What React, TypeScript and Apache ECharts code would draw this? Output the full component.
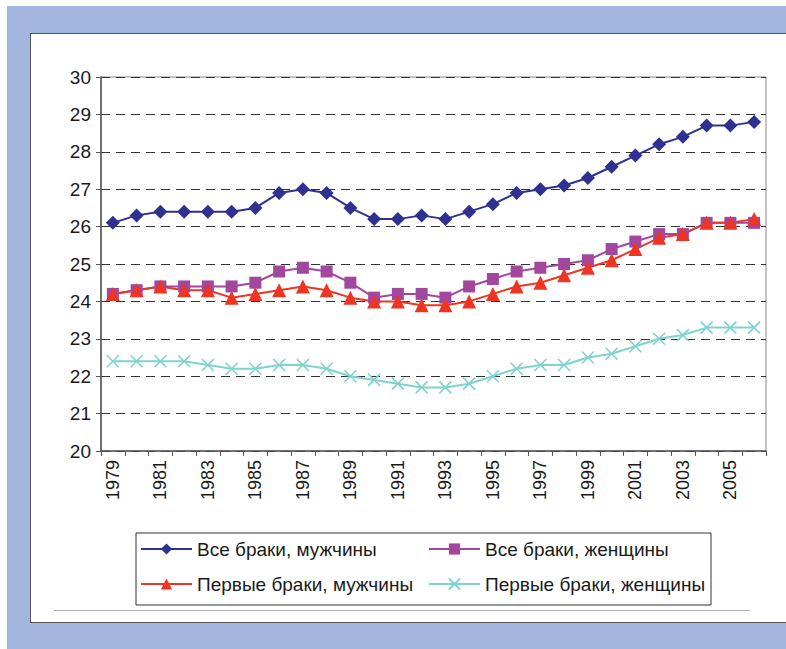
import React, { useEffect, useRef } from "react";
import * as echarts from "echarts";

const years = [
  "1979", "1980", "1981", "1982", "1983", "1984", "1985", "1986", "1987", "1988",
  "1989", "1990", "1991", "1992", "1993", "1994", "1995", "1996", "1997", "1998",
  "1999", "2000", "2001", "2002", "2003", "2004", "2005", "2006",
];

const allMen = [
  26.1, 26.3, 26.4, 26.4, 26.4, 26.4, 26.5, 26.9, 27.0, 26.9,
  26.5, 26.2, 26.2, 26.3, 26.2, 26.4, 26.6, 26.9, 27.0, 27.1,
  27.3, 27.6, 27.9, 28.2, 28.4, 28.7, 28.7, 28.8,
];
const allWomen = [
  24.2, 24.3, 24.4, 24.4, 24.4, 24.4, 24.5, 24.8, 24.9, 24.8,
  24.5, 24.1, 24.2, 24.2, 24.1, 24.4, 24.6, 24.8, 24.9, 25.0,
  25.1, 25.4, 25.6, 25.8, 25.8, 26.1, 26.1, 26.1,
];
const firstMen = [
  24.2, 24.3, 24.4, 24.3, 24.3, 24.1, 24.2, 24.3, 24.4, 24.3,
  24.1, 24.0, 24.0, 23.9, 23.9, 24.0, 24.2, 24.4, 24.5, 24.7,
  24.9, 25.1, 25.4, 25.7, 25.8, 26.1, 26.1, 26.2,
];
const firstWomen = [
  22.4, 22.4, 22.4, 22.4, 22.3, 22.2, 22.2, 22.3, 22.3, 22.2,
  22.0, 21.9, 21.8, 21.7, 21.7, 21.8, 22.0, 22.2, 22.3, 22.3,
  22.5, 22.6, 22.8, 23.0, 23.1, 23.3, 23.3, 23.3,
];

const seriesNames = [
  "Все браки, мужчины",
  "Все браки, женщины",
  "Первые браки, мужчины",
  "Первые браки, женщины",
];

const FONT = "'Liberation Sans', Arial, sans-serif";

export default function App() {
  const ref = useRef<HTMLDivElement>(null);

  useEffect(() => {
    if (!ref.current) return;
    const chart = echarts.init(ref.current, undefined, { renderer: "svg" });
    const cross = "path://M0,0L10,10M10,0L0,10";
    const legendText = { fontSize: 19, color: "#1a1a1a", fontFamily: FONT, lineHeight: 20 };
    chart.setOption({
      animation: false,
      textStyle: { fontFamily: FONT },
      graphic: [
        {
          type: "rect",
          shape: { x: 136, y: 533, width: 575, height: 72 },
          style: { fill: "transparent", stroke: "#333", lineWidth: 1 },
          silent: true,
        },
        {
          type: "line",
          shape: { x1: 54, y1: 610.5, x2: 750, y2: 610.5 },
          style: { stroke: "#b0b0b0", lineWidth: 1 },
          silent: true,
        },
      ],
      grid: {
        left: 101,
        top: 77,
        width: 665,
        height: 374,
        show: true,
        borderColor: "#888",
        borderWidth: 1,
        backgroundColor: "transparent",
      },
      legend: [
        {
          data: [seriesNames[0], seriesNames[2]],
          orient: "vertical",
          left: 140,
          top: 539,
          itemWidth: 51,
          itemHeight: 14,
          itemGap: 15,
          padding: 0,
          textStyle: legendText,
        },
        {
          data: [seriesNames[1], seriesNames[3]],
          orient: "vertical",
          left: 428,
          top: 539,
          itemWidth: 51,
          itemHeight: 14,
          itemGap: 15,
          padding: 0,
          textStyle: legendText,
        },
      ],
      xAxis: {
        type: "category",
        data: years,
        boundaryGap: true,
        axisLine: { show: true, lineStyle: { color: "#555", width: 1.5 } },
        axisTick: { show: true, interval: 0, length: 5, lineStyle: { color: "#555" } },
        axisLabel: {
          interval: 1,
          rotate: 90,
          fontSize: 18,
          color: "#1a1a1a",
          fontFamily: FONT,
          margin: 9,
        },
        splitLine: { show: false },
      },
      yAxis: {
        type: "value",
        min: 20,
        max: 30,
        interval: 1,
        axisLine: { show: true, lineStyle: { color: "#555", width: 1.5 } },
        axisTick: { show: true, length: 5, lineStyle: { color: "#555" } },
        axisLabel: { fontSize: 19, color: "#1a1a1a", fontFamily: FONT, margin: 10 },
        splitLine: { show: true, lineStyle: { color: "#333", width: 1, type: [9, 6] } },
      },
      series: [
        {
          name: seriesNames[0],
          type: "line",
          data: allMen,
          symbol: "diamond",
          symbolSize: 14,
          lineStyle: { color: "#2E3192", width: 2 },
          itemStyle: { color: "#2E3192" },
        },
        {
          name: seriesNames[1],
          type: "line",
          data: allWomen,
          symbol: "rect",
          symbolSize: 12,
          lineStyle: { color: "#A2479E", width: 2 },
          itemStyle: { color: "#A2479E" },
        },
        {
          name: seriesNames[2],
          type: "line",
          data: firstMen,
          symbol: "triangle",
          symbolSize: 14,
          lineStyle: { color: "#EE3524", width: 2 },
          itemStyle: { color: "#EE3524" },
        },
        {
          name: seriesNames[3],
          type: "line",
          data: firstWomen,
          symbol: cross,
          symbolSize: 12,
          lineStyle: { color: "#7FD3CE", width: 2 },
          itemStyle: { color: "#7FD3CE", borderColor: "#7FD3CE", borderWidth: 1.6 },
        },
      ],
    });
    return () => chart.dispose();
  }, []);

  return (
    <div
      style={{
        position: "absolute",
        left: 0,
        top: 0,
        width: 786,
        height: 649,
        background: "#fff",
        overflow: "hidden",
      }}
    >
      <div
        style={{
          position: "absolute",
          left: 7,
          top: 6,
          width: 779,
          height: 643,
          background: "#A2B6DD",
        }}
      />
      <div
        style={{
          position: "absolute",
          left: 30,
          top: 33,
          width: 800,
          height: 590,
          background: "#fff",
          border: "1.5px solid #555",
          boxSizing: "border-box",
        }}
      />
      <div
        ref={ref}
        style={{ position: "absolute", left: 0, top: 0, width: 786, height: 649 }}
      />
    </div>
  );
}
